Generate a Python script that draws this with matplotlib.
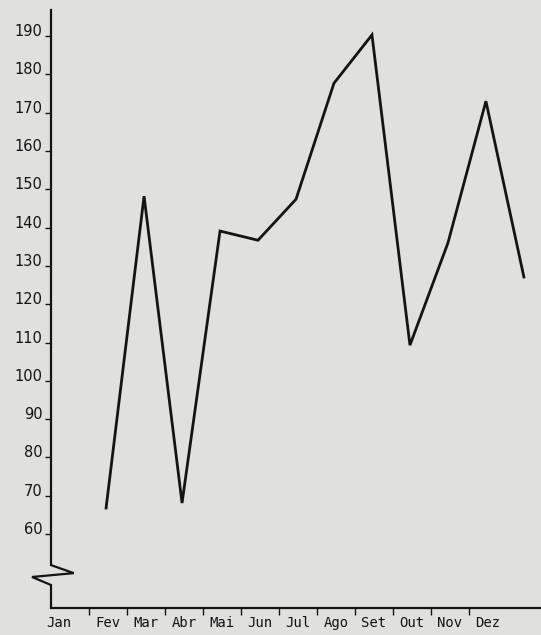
import numpy as np
import matplotlib
matplotlib.use('Agg')
import matplotlib.pyplot as plt
from matplotlib.transforms import ScaledTranslation

# meses e valores
meses = ['Jan', 'Fev', 'Mar', 'Abr', 'Mai', 'Jun', 'Jul', 'Ago', 'Set', 'Out', 'Nov', 'Dez']
valores = [66.8, 148.2, 68.1, 139.1, 136.7, 147.4, 177.7, 190.3, 109.3, 136.0, 173.0, 127.1]
y_ticks = list(range(60, 200, 10))

paper = '#e0e1df'
ink = '#141414'

fig = plt.figure(figsize=(5.41, 6.35), dpi=100, facecolor=paper)
ax = fig.add_axes([51 / 541, 27 / 635, 490 / 541, 598 / 635])
ax.set_facecolor(paper)

x = np.arange(len(meses))
# a linha esta deslocada um mes para a direita em relacao aos rotulos
ax.plot(x + 1.45, valores, color=ink, linewidth=2.0, solid_joinstyle='miter')

ax.set_xlim(0, 12.9)
ax.set_ylim(40.7, 196.8)

for s in ax.spines.values():
    s.set_visible(False)

# eixo y com quebra em zigue-zague e eixo x
ax.plot([0, 0, 0.6, -0.5, 0, 0, 12.9],
        [196.8, 51.9, 49.8, 48.8, 46.7, 40.7, 40.7],
        color=ink, linewidth=1.6, clip_on=False, solid_joinstyle='miter')

ax.set_yticks(y_ticks)
ax.set_yticklabels([str(v) for v in y_ticks], fontsize=10.5, color=ink)
for lab in ax.get_yticklabels():
    lab.set_verticalalignment('baseline')
ax.tick_params(axis='y', direction='out', length=4, width=1.0, color=ink, pad=2)

ax.set_xticks(x + 0.5)
ax.set_xticklabels(meses, fontsize=10, family='DejaVu Sans Mono', color=ink)
ax.set_xticks(np.arange(1, 12), minor=True)
ax.tick_params(axis='x', which='major', length=0, pad=6)
ax.tick_params(axis='x', which='minor', direction='out', length=5, width=1.0, color=ink)

# "Jan" fica um pouco mais a esquerda no original
jan = ax.get_xticklabels()[0]
jan.set_transform(jan.get_transform() + ScaledTranslation(-0.11, 0, fig.dpi_scale_trans))

fig.savefig('out.png', dpi=100, facecolor=paper)
